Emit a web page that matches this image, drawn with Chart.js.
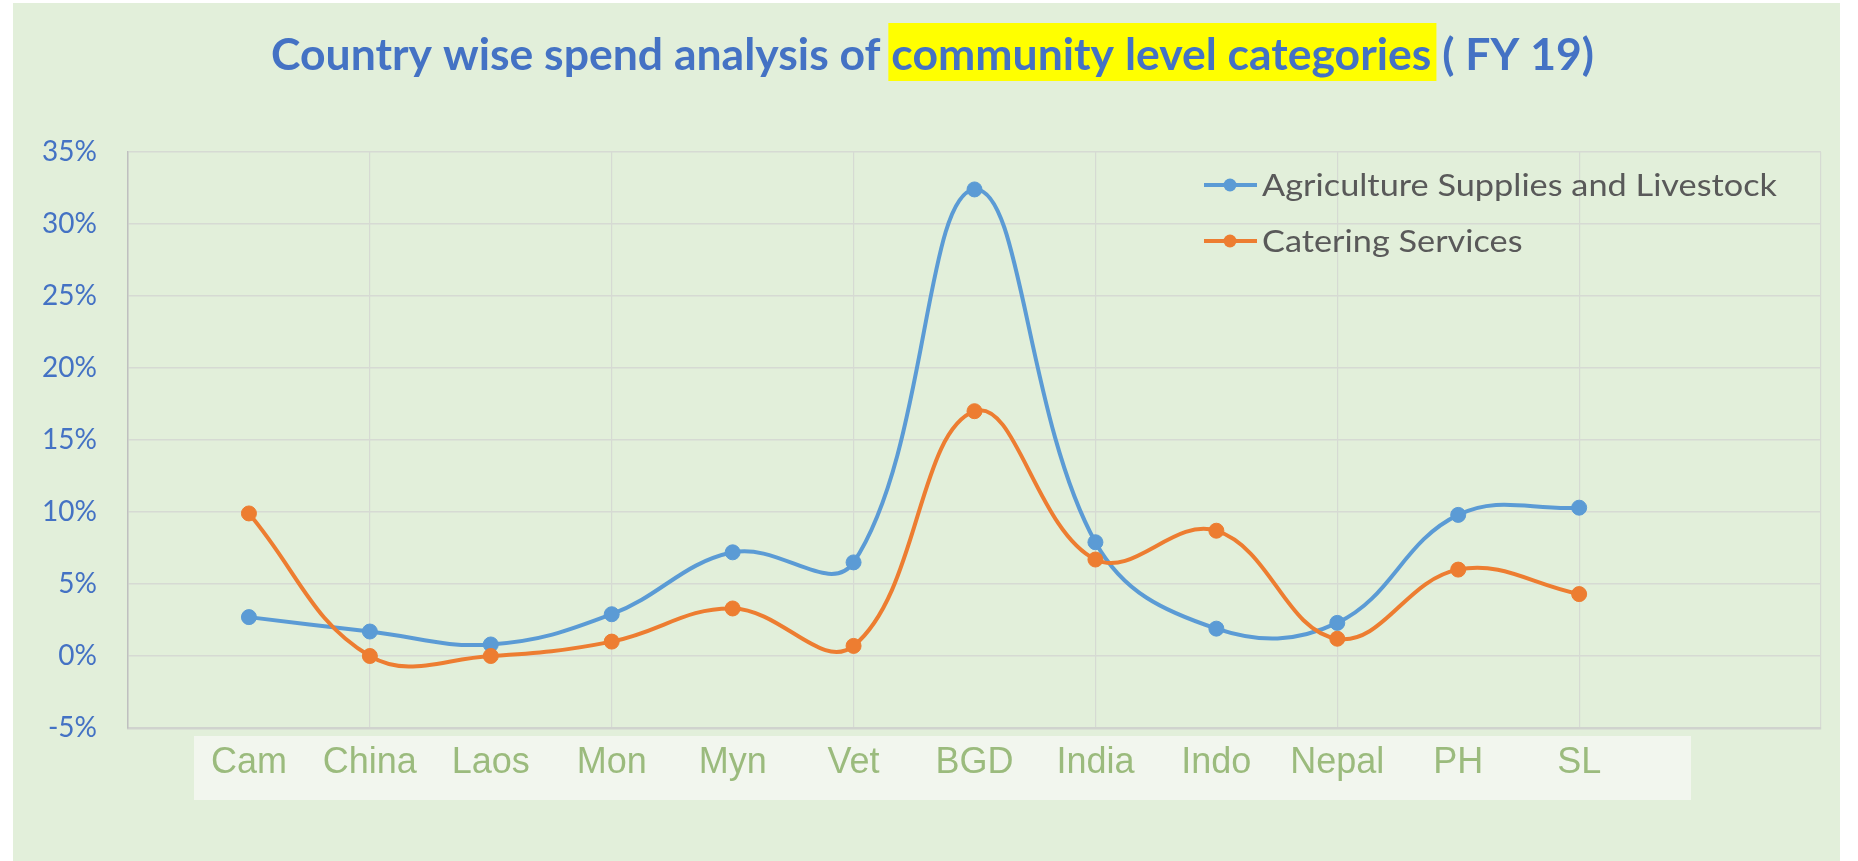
<!DOCTYPE html>
<html>
<head>
<meta charset="utf-8">
<script src="https://cdn.jsdelivr.net/npm/chart.js@4.4.1/dist/chart.umd.min.js"></script>
<style>
  html, body { margin: 0; padding: 0; background: #ffffff; }
  #wrap { width: 1858px; height: 861px; position: relative; }
</style>
</head>
<body>
<div id="wrap"><canvas id="myChart"></canvas></div>
<script>
// data (values in %)
const countries = ["Cam", "China", "Laos", "Mon", "Myn", "Vet", "BGD", "India", "Indo", "Nepal", "PH", "SL"];
const agriculture = [2.7, 1.7, 0.8, 2.9, 7.2, 6.5, 32.4, 7.9, 1.9, 2.3, 9.8, 10.3];
const catering = [9.9, 0.0, 0.0, 1.0, 3.3, 0.7, 17.0, 6.7, 8.7, 1.2, 6.0, 4.3];
const yTicks = [-5, 0, 5, 10, 15, 20, 25, 30, 35];

const seriesNames = ["Agriculture Supplies and Livestock", "Catering Services"];
const blueColor = "#5B9BD5";
const orangeColor = "#ED7D31";

const titleParts = ["Country wise spend analysis of ", "community level categories", " ( FY 19)"];

// backgrounds, label strip, title and legend
const decorPlugin = {
  id: "decor",
  beforeDraw(chart) {
    const ctx = chart.ctx;
    ctx.save();
    ctx.fillStyle = "#ffffff";
    ctx.fillRect(0, 0, chart.width, chart.height);
    ctx.fillStyle = "#E2EFDA";
    ctx.fillRect(13, 3, 1827, chart.height - 3);
    // lighter strip behind the category names
    ctx.fillStyle = "#F2F6EE";
    ctx.fillRect(194, 736, 1497, 64);

    // title with highlighted middle part
    ctx.font = "bold 44px Lato";
    ctx.textBaseline = "alphabetic";
    const w = titleParts.map((t) => ctx.measureText(t).width);
    const total = w[0] + w[1] + w[2];
    const sx = 1323 / total;
    ctx.translate(271, 0);
    ctx.scale(sx, 1);
    ctx.fillStyle = "#FFFF00";
    ctx.fillRect(w[0] - 3 / sx, 23, w[1] + 8 / sx, 58);
    ctx.fillStyle = "#4472C4";
    let x = 0;
    titleParts.forEach((t, i) => {
      ctx.fillText(t, x, 70);
      x += w[i];
    });
    ctx.restore();
  },
  afterDraw(chart) {
    const ctx = chart.ctx;
    ctx.save();
    ctx.font = "31px Lato";
    const sx = 515 / ctx.measureText(chart.data.datasets[0].label).width;
    chart.data.datasets.forEach((ds, i) => {
      const y = 185 + i * 56;
      ctx.strokeStyle = ds.borderColor;
      ctx.lineWidth = 4;
      ctx.beginPath();
      ctx.moveTo(1204, y);
      ctx.lineTo(1257, y);
      ctx.stroke();
      ctx.fillStyle = ds.borderColor;
      ctx.beginPath();
      ctx.arc(1230, y, 6.5, 0, Math.PI * 2);
      ctx.fill();
      ctx.save();
      ctx.translate(1262, y + 11);
      ctx.scale(sx, 1);
      ctx.fillStyle = "#595959";
      ctx.textBaseline = "alphabetic";
      ctx.fillText(ds.label, 0, 0);
      ctx.restore();
    });
    ctx.restore();
  }
};

const ctx = document.getElementById("myChart");

new Chart(ctx, {
  type: "line",
  data: {
    datasets: [
      {
        label: seriesNames[0],
        data: agriculture.map((v, i) => ({ x: i, y: v })),
        borderColor: blueColor,
        backgroundColor: blueColor,
        borderWidth: 4,
        pointRadius: 7.5,
        pointBorderWidth: 1,
        tension: 0.4,
        fill: false,
        order: 1,
      },
      {
        label: seriesNames[1],
        data: catering.map((v, i) => ({ x: i, y: v })),
        borderColor: orangeColor,
        backgroundColor: orangeColor,
        borderWidth: 4,
        pointRadius: 7.5,
        pointBorderWidth: 1,
        tension: 0.4,
        fill: false,
        order: 0,
      },
    ],
  },
  options: {
    responsive: true,
    maintainAspectRatio: false,
    animation: false,
    devicePixelRatio: 1,
    layout: { padding: { top: 152, right: 37, left: 0, bottom: 0 } },
    plugins: {
      legend: { display: false },
      title: { display: false },
      tooltip: { enabled: false },
    },
    scales: {
      x: {
        type: "linear",
        min: -1,
        max: countries.length + 1,
        afterBuildTicks: (scale) => {
          const t = [];
          for (let v = -1; v <= countries.length + 1; v++) t.push({ value: v });
          scale.ticks = t;
        },
        afterFit: (scale) => { scale.height = 133; },
        grid: {
          drawTicks: false,
          color: (c) => (Math.abs(c.tick.value) % 2 === 1 ? "#D6DAD3" : "rgba(0,0,0,0)"),
          lineWidth: 1.2,
        },
        border: { color: "#D0D3CE", width: 2.5 },
        ticks: {
          autoSkip: false,
          maxRotation: 0,
          padding: 13,
          color: "#9BBB7D",
          font: { family: "'Liberation Sans Narrow', 'Liberation Sans', Arial", size: 36 },
          callback: (v) => (countries[v] !== undefined ? countries[v] : ""),
        },
      },
      y: {
        min: yTicks[0],
        max: yTicks[yTicks.length - 1],
        afterFit: (scale) => { scale.width = 128; },
        grid: { drawTicks: false, color: "#D6DAD3", lineWidth: 1.6 },
        border: { color: "#BFBFBF", width: 1.5 },
        ticks: {
          stepSize: yTicks[1] - yTicks[0],
          padding: 31,
          color: "#4472C4",
          font: { family: "Lato", size: 28 },
          callback: (v) => v + "%",
        },
      },
    },
  },
  plugins: [decorPlugin],
});
</script>
</body>
</html>
